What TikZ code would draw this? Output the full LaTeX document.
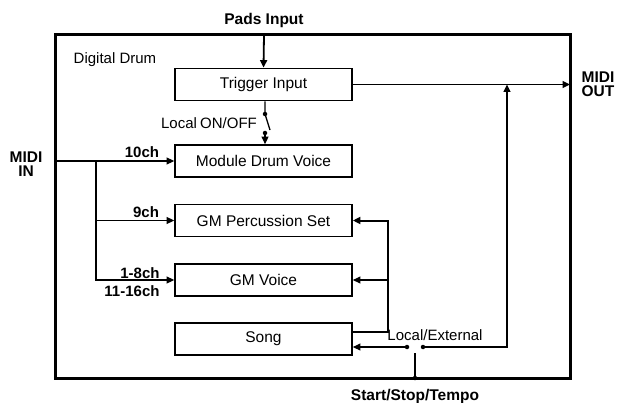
\documentclass[tikz,border=0pt]{standalone}
\usepackage{fontspec}
\setmainfont{Liberation Sans}
\usetikzlibrary{arrows.meta}
\begin{document}
\begin{tikzpicture}[x=1pt,y=-1pt,
    >={Triangle[length=7.5pt,width=7pt]},
    blockbox/.style={draw=black,line width=1.8pt,minimum width=177pt,minimum height=32pt,inner sep=0pt,font=\fontsize{15.5}{17}\selectfont},
    lbl/.style={inner sep=0pt,font=\fontsize{15}{16}\selectfont},
    blbl/.style={inner sep=0pt,align=center,font=\fontsize{15.5}{17}\selectfont\bfseries},
    chlbl/.style={inner sep=0pt,font=\fontsize{15}{16}\selectfont\bfseries},
    wire/.style={draw=black,line width=1.3pt},
    dot/.style={circle,fill=black,inner sep=0pt,minimum size=4.5pt}]
    \useasboundingbox (0,0) rectangle (617,403);
    \fill[white] (0,0) rectangle (617,403);
    \draw[line width=3pt] (55,35) rectangle (570,378);

    \node[blockbox] (trig) at (263.5,84.5) {Trigger Input};
    \node[blockbox] (drum) at (263.5,161) {Module Drum Voice};
    \node[blockbox] (perc) at (263.5,220.5) {GM Percussion Set};
    \node[blockbox] (gmv) at (263.5,280) {GM Voice};
    \node[blockbox] (song) at (263.5,339) {Song};

    \node[lbl] (title) at (115,60) {Digital Drum};
    \node[blbl] (pads) at (264,20) {Pads Input};
    \node[blbl] (midiin) at (26,164) {MIDI\\[-3pt]IN};
    \node[blbl] (midiout) at (598,84) {MIDI\\[-3pt]OUT};
    \node[blbl] (sst) at (415,396) {Start/Stop/Tempo};
    \node[lbl] (localsw) at (209,123) {Local\kern-1pt\ ON/OFF};
    \node[lbl] (localext) at (435,335) {Local/External};
    \node[chlbl] (ch10) at (142,152) {10ch};
    \node[chlbl] (ch9) at (146,212) {9ch};
    \node[chlbl] (ch18) at (140,273) {1-8ch};
    \node[chlbl] (ch1116) at (132,291) {11-16ch};

    \coordinate (padsin) at (264,35);
    \coordinate (outR) at (570,84.5);
    \coordinate (inL) at (55,161);
    \coordinate (br) at (96,161);
    \coordinate (fbtop) at (388,220.5);
    \coordinate (fbmid) at (388,280);
    \coordinate (fbbot) at (388,332);
    \coordinate (songout) at (352,332);
    \coordinate (swl) at (407,347);
    \coordinate (swr) at (423,347);
    \coordinate (swc) at (415,353);
    \coordinate (swb) at (415,378);
    \coordinate (ret) at (507,347);
    \coordinate (retup) at (507,84.5);
    \coordinate (sw1) at (265,114);
    \coordinate (sw2) at (265,133);
    \coordinate (swtip) at (270,130);

    \draw[wire,line width=1.8pt,->] (padsin) -- (trig.north);
    \draw[wire,->] (trig.east) -- (outR);
    \draw[wire] (trig.south -| sw1) -- (sw1) -- (swtip);
    \draw[wire,->] (sw2) -- (drum.north -| sw2);
    \foreach \p in {sw1,sw2,swl,swr,swb}
        {\node[dot] at (\p) {};}

    \draw[wire,->] (inL) -- (drum.west);
    \draw[wire,->] (br) |- (perc.west);
    \draw[wire,->] (br) |- (gmv.west);

    \draw[wire,line width=2pt,->] (songout) -- (fbbot) -- (fbtop) -- (perc.east);
    \draw[wire,->] (fbmid) -- (gmv.east);
    \draw[wire,->] (swl) -- (song.east |- swl);
    \draw[wire,->] (swr) -- (ret) -- (retup);
    \draw[wire] (swc) -- (swb);

\end{tikzpicture}
\end{document}
